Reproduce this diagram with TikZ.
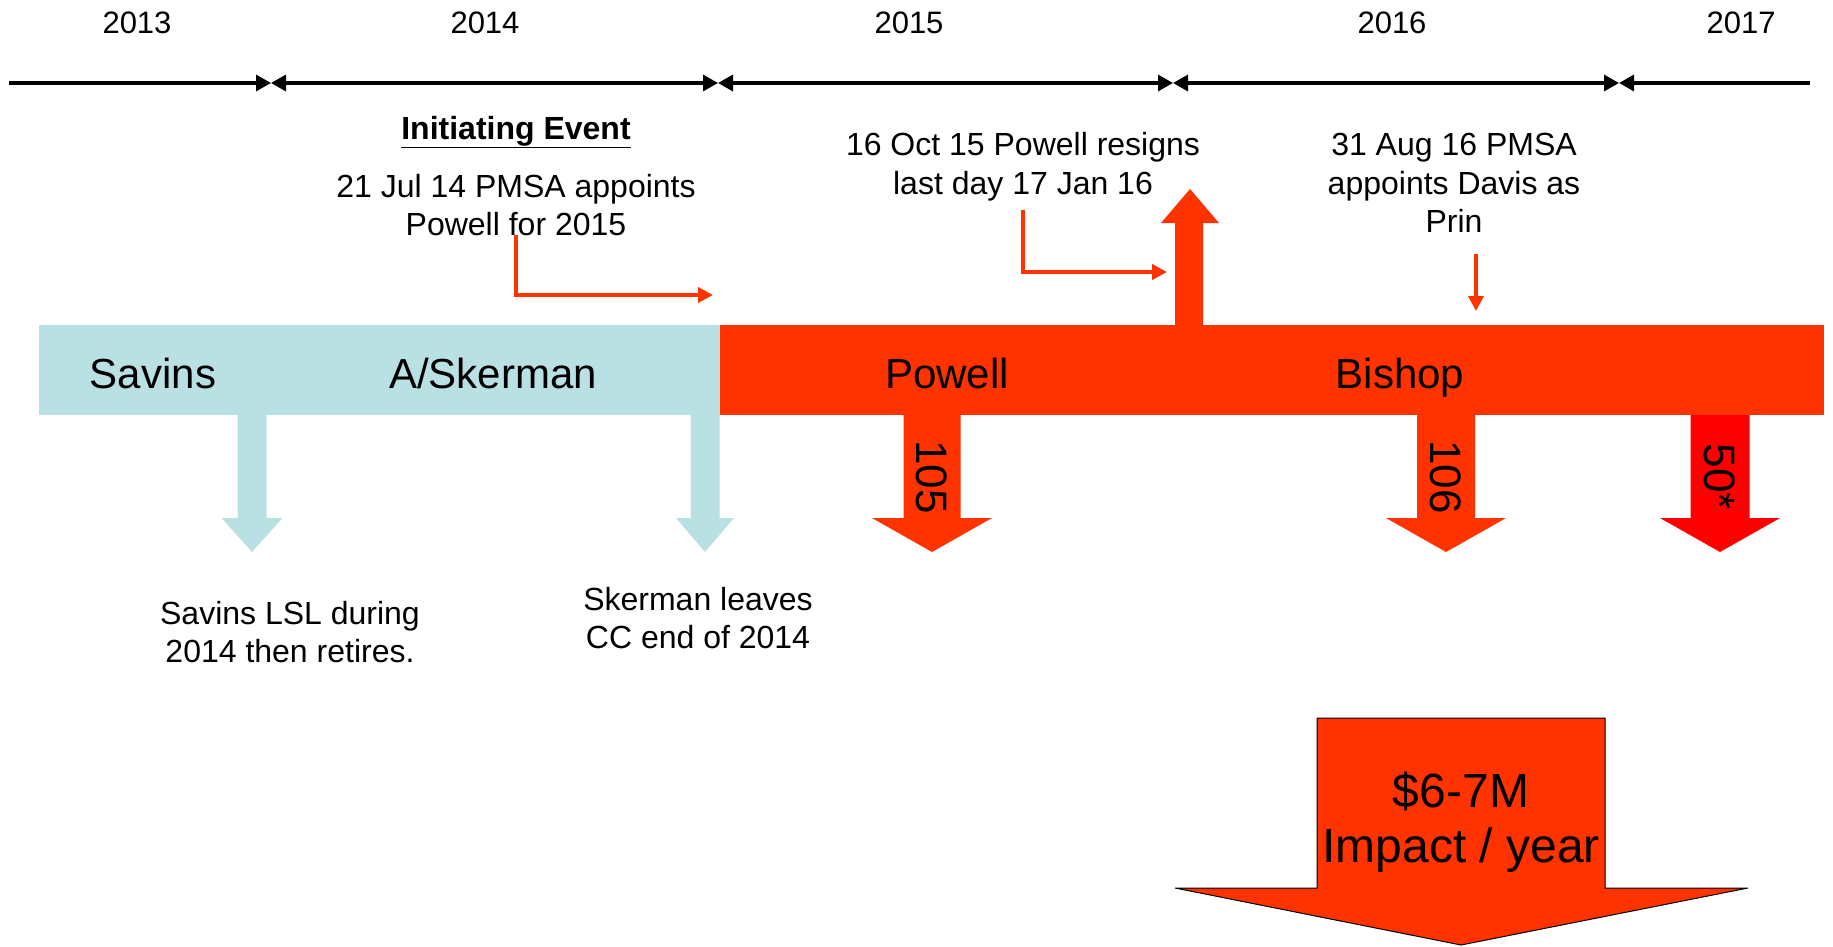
\documentclass[tikz,border=0pt]{standalone}
\usepackage{fontspec}
\setmainfont{Liberation Sans}
\usetikzlibrary{arrows.meta}
\definecolor{lblue}{RGB}{185,224,227}
\definecolor{ored}{RGB}{255,51,0}
\definecolor{pred}{RGB}{255,0,0}
\begin{document}
\begin{tikzpicture}[x=1pt,y=-1pt,
  yearlbl/.style={font=\fontsize{31}{37}\selectfont, inner sep=0},
  note/.style={font=\fontsize{32}{38.6}\selectfont, inner sep=0, align=center},
  barlbl/.style={font=\fontsize{42}{50}\selectfont, inner sep=0, anchor=base},
  numlbl/.style={font=\fontsize{44}{50}\selectfont, inner sep=0, rotate=-90},
  bigtxt/.style={font=\fontsize{48}{58}\selectfont, inner sep=0},
  tlseg/.style={line width=3.3pt},
  tip/.tip={Triangle[length=15pt,width=16pt]},
  thinarrow/.style={ored, line width=4pt, -{Triangle[length=15pt,width=15pt]}},
  pics/dnarrow/.style n args={3}{code={
    \fill[#1] (-#2,0) -- (-#2,103) -- (-#3,103) -- (0,137) -- (#3,103) -- (#2,103) -- (#2,0) -- cycle;}},
]
\useasboundingbox (0,0) rectangle (1833,947);

% years
\node[yearlbl] (y13) at (137,23) {2013};
\node[yearlbl] (y14) at (485,23) {2014};
\node[yearlbl] (y15) at (909,23) {2015};
\node[yearlbl] (y16) at (1392,23) {2016};
\node[yearlbl] (y17) at (1741,23) {2017};

% timeline
\coordinate (t0) at (9,83);
\coordinate (m1) at (271,83);
\coordinate (m2) at (718,83);
\coordinate (m3) at (1173,83);
\coordinate (m4) at (1619,83);
\coordinate (t5) at (1810,83);
\draw[tlseg,-tip] (t0) -- (m1);
\draw[tlseg,tip-tip] (m1) -- (m2);
\draw[tlseg,tip-tip] (m2) -- (m3);
\draw[tlseg,tip-tip] (m3) -- (m4);
\draw[tlseg,tip-] (m4) -- (t5);

% bar
\fill[lblue] (39,325) rectangle (720,415);
\fill[ored] (720,325) rectangle (1824,415);
\node[barlbl] (savins) at (153,388) {Savins};
\node[barlbl] (skerman) at (493,388) {A/Skerman};
\node[barlbl] (powell) at (947,388) {Powell};
\node[barlbl] (bishop) at (1400,388) {Bishop};

% up arrow
\fill[ored] (1175,326) -- (1175,223) -- (1161,223) -- (1190,189) -- (1219,223) -- (1203,223) -- (1203,326) -- cycle;

% annotations
\node[note,font=\fontsize{32}{38.6}\selectfont\bfseries] (init) at (516,132) {\underline{Initiating Event}};
\node[note] (ev1) at (516,205) {21 Jul 14 PMSA appoints\\Powell for 2015};
\node[note] (ev2) at (1023,167) {16 Oct 15 Powell resigns\\last day 17 Jan 16};
\node[note] (ev3) at (1454,183) {31 Aug 16 PMSA\\appoints Davis as\\Prin};

\coordinate (a1s) at (516,235);
\coordinate (a1e) at (713,295);
\draw[thinarrow] (a1s) |- (a1e);
\coordinate (a2s) at (1023,210);
\coordinate (a2e) at (1167,272);
\draw[thinarrow] (a2s) |- (a2e);
\coordinate (a3s) at (1476,254);
\coordinate (a3e) at (1476,311);
\draw[thinarrow] (a3s) -- (a3e);

% down arrows
\pic at (252,415) {dnarrow={lblue}{14.5}{30.5}};
\pic at (705,415) {dnarrow={lblue}{14.5}{29}};
\pic at (932,415) {dnarrow={ored}{28.5}{60}};
\pic at (1446,415) {dnarrow={ored}{29}{60}};
\pic at (1720,415) {dnarrow={pred}{29.5}{60}};
\node[numlbl] (n105) at (932,477) {105};
\node[numlbl] (n106) at (1446,477) {106};
\node[numlbl] (n50) at (1720,477) {50*};

\node[note] (sav) at (290,632) {Savins LSL during\\2014 then retires.};
\node[note] (sk) at (698,618) {Skerman leaves\\CC end of 2014};

% big arrow
\filldraw[fill=ored, draw=black, line width=1pt] (1317,718) -- (1605,718) -- (1605,888) -- (1748,888) -- (1461,945) -- (1175,888) -- (1317,888) -- cycle;
\node[bigtxt] (imp1) at (1461,791) {\$6-7M};
\node[bigtxt] (imp2) at (1461,850) {Impact / year};
\end{tikzpicture}
\end{document}
